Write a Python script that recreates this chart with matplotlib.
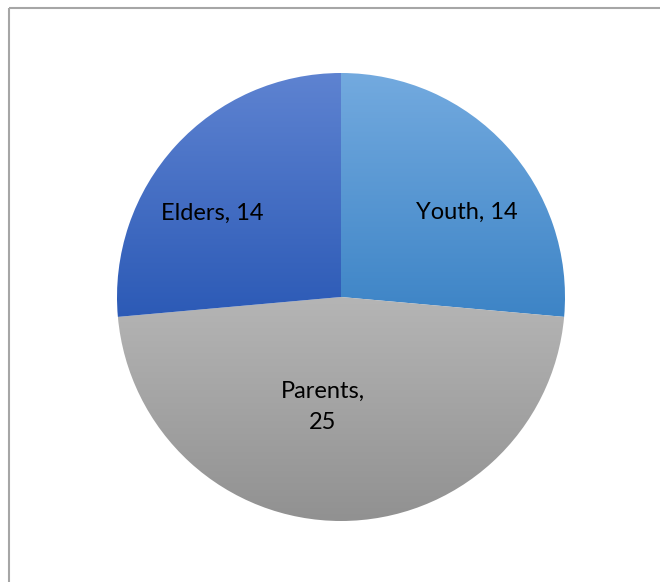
import matplotlib
matplotlib.use("Agg")
import matplotlib.pyplot as plt
import numpy as np
from matplotlib.colors import to_rgb

categories = ["Youth", "Parents", "Elders"]
values = [14, 25, 14]
top_colors = ["#73aadf", "#b5b5b5", "#5e83d1"]
bottom_colors = ["#3d84c6", "#919191", "#2c5ab6"]

W, H = 660, 582
fig = plt.figure(figsize=(W / 100, H / 100), dpi=100)
ax = fig.add_axes([0, 0, 1, 1])

cx, cy, R = 341, H - 297, 224
wedges, _ = ax.pie(values, startangle=90, counterclock=False,
                   center=(cx, cy), radius=R, frame=True,
                   wedgeprops=dict(linewidth=0))
ax.set_xlim(0, W)
ax.set_ylim(0, H)
ax.set_aspect("equal")
ax.axis("off")

for w, tc, bc in zip(wedges, top_colors, bottom_colors):
    verts = w.get_path().vertices
    ys = verts[:, 1]
    xs = verts[:, 0]
    y0, y1 = ys.min(), ys.max()
    x0, x1 = xs.min(), xs.max()
    n = 256
    t = np.linspace(0, 1, n)[:, None]
    c0 = np.array(to_rgb(tc)); c1 = np.array(to_rgb(bc))
    grad = (c0 * (1 - t) + c1 * t)[:, None, :]
    grad = np.repeat(grad, 2, axis=1)
    im = ax.imshow(grad, extent=(x0, x1, y0, y1), origin="upper",
                   aspect="auto", interpolation="bilinear", zorder=1)
    im.set_clip_path(w)
    w.set_facecolor("none")
    w.set_zorder(2)
ax.set_xlim(0, W)
ax.set_ylim(0, H)

# labels
label_offsets = [(126, 85), (-18, -110), (-129, 84)]
for cat, v, (dx, dy) in zip(categories, values, label_offsets):
    txt = f"{cat}, {v}" if cat != "Parents" else f"{cat},\n{v}"
    ax.text(cx + dx, cy + dy, txt, ha="center", va="center",
            fontsize=17, family="Lato", color="black",
            linespacing=1.6, zorder=3)

# border lines (left and top)
ax.plot([8.5, 8.5], [0, H - 8], color="#a6a6a6", lw=1.5, solid_capstyle="butt")
ax.plot([8.5, W], [H - 8, H - 8], color="#a6a6a6", lw=1.5, solid_capstyle="butt")

fig.savefig("out.png", dpi=100, facecolor="white")
